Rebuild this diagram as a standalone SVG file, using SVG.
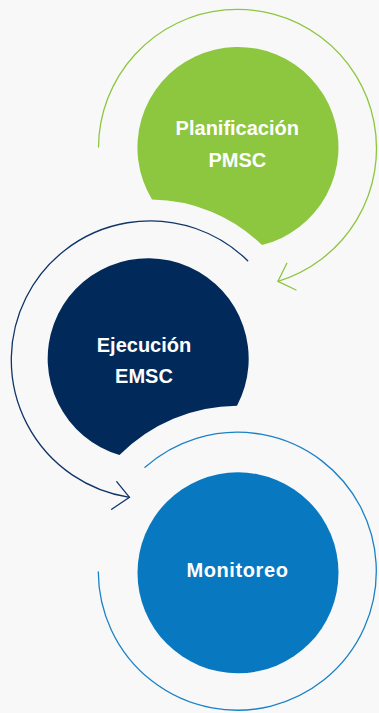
<svg xmlns="http://www.w3.org/2000/svg" width="379" height="713" viewBox="0 0 379 713">
<style>
.lbl{font-family:"Liberation Sans",Arial,sans-serif;font-weight:bold;font-size:20px;fill:#ffffff;text-anchor:middle}
.ring{fill:none;stroke-width:1.3;stroke-linecap:round;stroke-linejoin:round}
</style>
<rect width="379" height="713" fill="#f8f8f8"/>
<g id="connectors">
<path class="ring" stroke="#8dc63f" d="M98.5 147 A139 139 0 1 1 278 281.3"/>
<path class="ring" stroke="#8dc63f" d="M286.8 263.3 L278 281.3 L296 290"/>
<path class="ring" stroke="#0f3466" d="M247.7 260.7 A139 139 0 1 0 129.5 497.3"/>
<path class="ring" stroke="#0f3466" d="M116.7 481.7 L129.5 497.3 L111.7 509.3"/>
<path class="ring" stroke="#1a82c6" d="M145 467.3 A139 139 0 1 1 98.3 572"/>
</g>
<g id="node-planificacion">
<path fill="#8dc63f" d="M262 245 A100.5 100.5 0 1 0 152 199.5 A160 160 0 0 1 262 245 Z"/>
<text class="lbl" x="237.3" y="135">Planificación</text>
<text class="lbl" x="237.3" y="166.7">PMSC</text>
</g>
<g id="node-ejecucion">
<path fill="#012a5a" d="M237 405.7 A100.5 100.5 0 1 0 119.5 455 A167 167 0 0 1 237 405.7 Z"/>
<text class="lbl" x="144" y="351.7">Ejecución</text>
<text class="lbl" x="144" y="383.3">EMSC</text>
</g>
<g id="node-monitoreo">
<circle cx="238" cy="572.8" r="100.5" fill="#0879c0"/>
<text class="lbl" x="237.5" y="577.3" letter-spacing="0.6">Monitoreo</text>
</g>
</svg>
